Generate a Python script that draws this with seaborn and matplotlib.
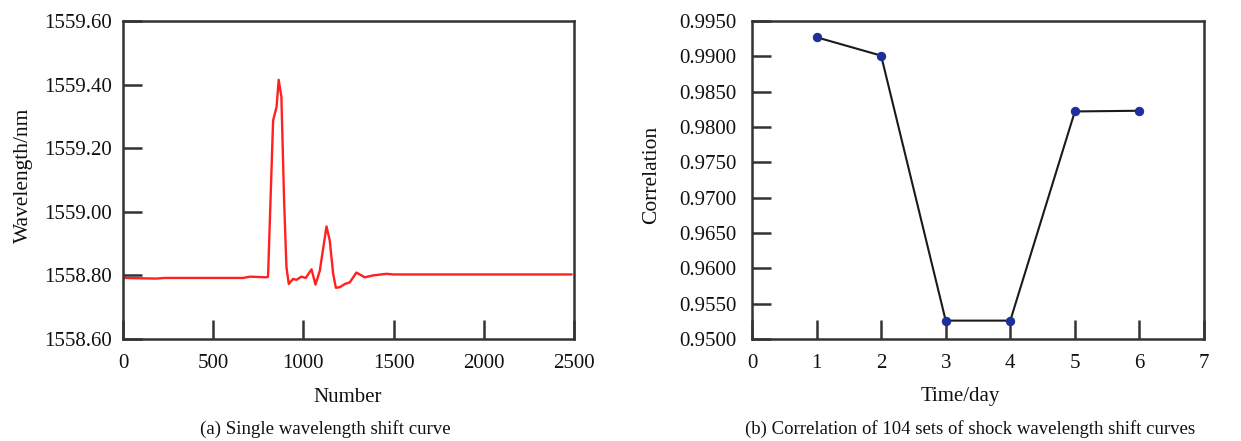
import matplotlib
matplotlib.use("Agg")
import matplotlib.pyplot as plt
import seaborn as sns
import pandas as pd

# Panel (a): single wavelength shift curve
sample_number = [0, 185, 231, 666, 703, 795, 804, 832, 851, 863, 878, 893, 906, 919,
                 943, 961, 989, 1013, 1045, 1067, 1091, 1128, 1146, 1165, 1180, 1202,
                 1230, 1257, 1294, 1340, 1387, 1461, 1498, 2487]
wavelength_nm = [1558.792, 1558.790, 1558.792, 1558.792, 1558.796, 1558.794, 1558.796,
                 1559.287, 1559.329, 1559.415, 1559.361, 1559.035, 1558.826, 1558.773,
                 1558.789, 1558.786, 1558.796, 1558.792, 1558.819, 1558.771, 1558.815,
                 1558.954, 1558.910, 1558.805, 1558.761, 1558.763, 1558.773, 1558.778,
                 1558.809, 1558.794, 1558.800, 1558.805, 1558.803, 1558.803]

# Panel (b): correlation per day
days = [1, 2, 3, 4, 5, 6]
correlation = [0.9927, 0.9901, 0.9526, 0.9526, 0.9822, 0.9823]

left_yticks = [1558.60, 1558.80, 1559.00, 1559.20, 1559.40, 1559.60]
left_xticks = [0, 500, 1000, 1500, 2000, 2500]
right_yticks = [0.9500, 0.9550, 0.9600, 0.9650, 0.9700, 0.9750, 0.9800, 0.9850, 0.9900, 0.9950]
right_xticks = [0, 1, 2, 3, 4, 5, 6, 7]

sns.set_theme(style="white")
plt.rcParams['font.family'] = ['Liberation Serif', 'DejaVu Serif']
plt.rcParams['mathtext.fontset'] = 'stix'

W, H = 1241, 441
fig = plt.figure(figsize=(W / 100, H / 100), dpi=100)
ax1 = fig.add_axes([123/W, 1 - 339/H, (574-123)/W, (339-21)/H])
ax2 = fig.add_axes([752/W, 1 - 339/H, (1204-752)/W, (339-21)/H])

df_a = pd.DataFrame({"Number": sample_number, "Wavelength": wavelength_nm})
df_b = pd.DataFrame({"Day": days, "Correlation": correlation})

sns.lineplot(data=df_a, x="Number", y="Wavelength", ax=ax1, color="#ff2020", linewidth=1.7)
sns.lineplot(data=df_b, x="Day", y="Correlation", ax=ax2, color="#1a1a1a", linewidth=1.5,
             marker="o", markersize=6, markerfacecolor="#1f2f9a", markeredgecolor="#1f2f9a")

ax1.set_xlim(0, 2500)
ax1.set_ylim(1558.60, 1559.60)
ax1.set_xticks(left_xticks)
ax1.set_xticklabels([str(v) for v in left_xticks])
ax1.set_yticks(left_yticks)
ax1.set_yticklabels([f"{v:.2f}" for v in left_yticks])
ax1.set_xlabel("Number", fontsize=15)
ax1.set_ylabel("Wavelength/nm", fontsize=15.5)

ax2.set_xlim(0, 7)
ax2.set_ylim(0.9500, 0.9950)
ax2.set_xticks(right_xticks)
ax2.set_xticklabels([str(v) for v in right_xticks])
ax2.set_yticks(right_yticks)
ax2.set_yticklabels([f"{v:.4f}" for v in right_yticks])
ax2.set_xlabel("Time/day", fontsize=15)
ax2.set_ylabel("Correlation", fontsize=15.5)

# label positions (axes coords)
ax1.xaxis.set_label_coords(0.499, (339 - 397) / 318)
ax2.xaxis.set_label_coords((960 - 752) / 452, (339 - 397) / 318)
ax1.yaxis.set_label_coords((23 - 123) / 451, (339 - 175) / 318)
ax2.yaxis.set_label_coords((652 - 752) / 452, (339 - 175) / 318)
for lab in (ax1.xaxis.label, ax2.xaxis.label, ax1.yaxis.label, ax2.yaxis.label):
    lab.set_va("center")
    lab.set_color("#111111")

for ax in (ax1, ax2):
    for s in ax.spines.values():
        s.set_visible(True)
        s.set_color("#333333")
        s.set_linewidth(1.8)
    ax.tick_params(axis="both", which="major", direction="in", length=14, width=1.8,
                   color="#333333", labelsize=15, labelcolor="#111111",
                   top=False, right=False, left=True, bottom=True)
    ax.tick_params(axis="x", pad=11)
ax1.tick_params(axis="y", pad=8)
ax2.tick_params(axis="y", pad=11)

fig.text(325/W, 1 - 429/H, "(a) Single wavelength shift curve",
         ha="center", va="center", fontsize=13.6, color="#111111")
fig.text(970/W, 1 - 429/H, "(b) Correlation of 104 sets of shock wavelength shift curves",
         ha="center", va="center", fontsize=13.5, color="#111111")

fig.savefig("out.png", dpi=100)
